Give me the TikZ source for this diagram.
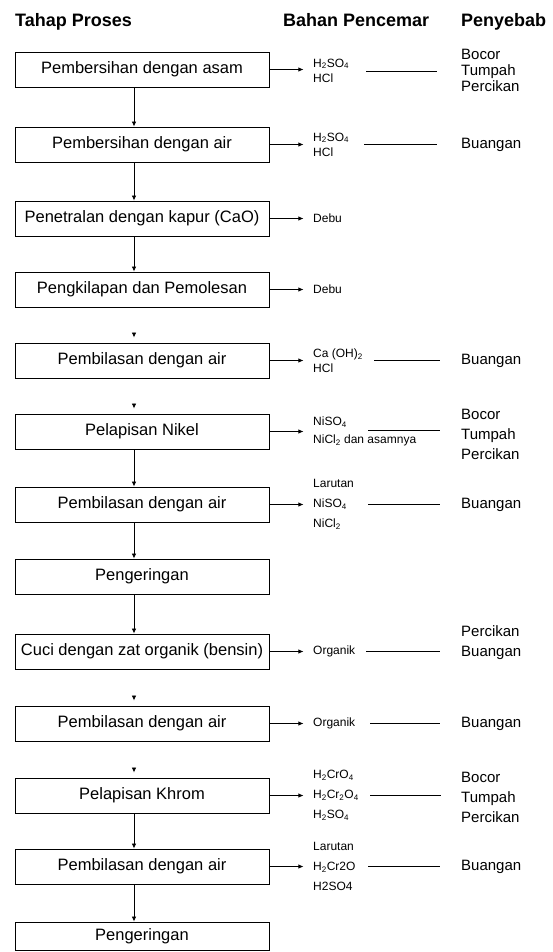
\documentclass[tikz,border=0pt]{standalone}
\usepackage{fontspec}
\setmainfont{Liberation Sans}
\usetikzlibrary{arrows.meta}
\begin{document}
\begin{tikzpicture}[x=1pt,y=-1pt,
  box/.style={draw, line width=0.9pt, minimum width=254pt, minimum height=35pt, inner sep=0pt, font=\fontsize{16.5}{19}\selectfont},
  arr/.style={line width=0.8pt, -{Latex[length=5pt,width=4.5pt]}},
  link/.style={line width=0.8pt},
  head/.style={anchor=base west, inner sep=0pt, font=\bfseries\fontsize{18}{21}\selectfont},
  chem/.style={anchor=west, align=left, inner sep=0pt, font=\fontsize{12}{15}\selectfont},
  chemwide/.style={anchor=west, align=left, inner sep=0pt, font=\fontsize{12}{18}\selectfont},
  chemthree/.style={anchor=west, align=left, inner sep=0pt, font=\fontsize{12}{20}\selectfont},
  cause/.style={anchor=west, align=left, inner sep=0pt, font=\fontsize{15}{20}\selectfont},
  causetight/.style={anchor=west, align=left, inner sep=0pt, font=\fontsize{15}{16}\selectfont}
]
\useasboundingbox (0,0) rectangle (553,952);
\fill[white] (0,0) rectangle (553,952);

% headers
\node[head] (h1) at (15,27) {Tahap Proses};
\node[head] (h2) at (283,27) {Bahan Pencemar};
\node[head] (h3) at (461,27) {Penyebab};

% process boxes
\node[box] (b1) at (142,69.5) {Pembersihan dengan asam};
\node[box] (b2) at (142,144.5) {Pembersihan dengan air};
\node[box] (b3) at (142,218.5) {Penetralan dengan kapur (CaO)};
\node[box] (b4) at (142,289.5) {Pengkilapan dan Pemolesan};
\node[box] (b5) at (142,360.5) {Pembilasan dengan air};
\node[box] (b6) at (142,431.5) {Pelapisan Nikel};
\node[box] (b7) at (142,504.5) {Pembilasan dengan air};
\node[box] (b8) at (142,576.5) {Pengeringan};
\node[box] (b9) at (142,651.5) {Cuci dengan zat organik (bensin)};
\node[box] (b10) at (142,723.5) {Pembilasan dengan air};
\node[box] (b11) at (142,795.5) {Pelapisan Khrom};
\node[box] (b12) at (142,866.5) {Pembilasan dengan air};
\node[box, minimum height=28pt] (b13) at (142,936) {Pengeringan};

% vertical flow
\coordinate (ax) at (134,0);
\draw[arr] (b1.south -| ax) -- (b2.north -| ax);
\draw[arr] (b2.south -| ax) -- (b3.north -| ax);
\draw[arr] (b3.south -| ax) -- (b4.north -| ax);
\draw[arr] (b6.south -| ax) -- (b7.north -| ax);
\draw[arr] (b7.south -| ax) -- (b8.north -| ax);
\draw[arr] (b8.south -| ax) -- (b9.north -| ax);
\draw[arr] (b11.south -| ax) -- (b12.north -| ax);
\draw[arr] (b12.south -| ax) -- (b13.north -| ax);
% lone arrow heads
\foreach \b in {b5,b6,b10,b11}{
  \coordinate (t\b) at (\b.north -| ax);
  \draw[arr] ([yshift=10pt]t\b) -- ([yshift=5pt]t\b);
}

% horizontal arrows
\foreach \b in {b1,b2,b3,b4,b5,b6,b7,b9,b10,b11,b12}{
  \draw[arr] (\b.east) -- ++(34,0) coordinate (e\b);
}

% pollutants
\node[chem] (c1) at (313,70.5) {H\textsubscript{2}SO\textsubscript{4}\\HCl};
\node[chem] (c2) at (313,144.5) {H\textsubscript{2}SO\textsubscript{4}\\HCl};
\node[chem] (c3) at (313,218.5) {Debu};
\node[chem] (c4) at (313,289.5) {Debu};
\node[chem] (c5) at (313,360.5) {Ca (OH)\textsubscript{2}\\HCl};
\node[chemwide] (c6) at (313,431.5) {NiSO\textsubscript{4}\\NiCl\textsubscript{2} dan asamnya};
\node[chemthree] (c7) at (313,504.5) {Larutan\\NiSO\textsubscript{4}\\NiCl\textsubscript{2}};
\node[chem] (c9) at (313,651.5) {Organik};
\node[chem] (c10) at (313,723.5) {Organik};
\node[chemthree] (c11) at (313,795.5) {H\textsubscript{2}CrO\textsubscript{4}\\H\textsubscript{2}Cr\textsubscript{2}O\textsubscript{4}\\H\textsubscript{2}SO\textsubscript{4}};
\node[chemthree] (c12) at (313,866.5) {Larutan\\H\textsubscript{2}Cr2O\\H2SO4};

% links to causes
\foreach \r/\y/\xa/\xb in {1/71/366/437, 2/144.5/364/437, 5/360.5/374/440, 6/430/368/440, 7/504.5/368/440, 9/651.5/366/440, 10/723.5/370/440, 11/795.5/370/441, 12/866.5/368/440}{
  \coordinate (p\r) at (\xa,\y);
  \coordinate (q\r) at (\xb,\y);
  \draw[link] (p\r) -- (q\r);
}

% causes
\node[causetight] (s1) at (461,70) {Bocor\\Tumpah\\Percikan};
\node[cause] (s2) at (461,144.5) {Buangan};
\node[cause] (s5) at (461,360.5) {Buangan};
\node[cause] (s6) at (461,434) {Bocor\\Tumpah\\Percikan};
\node[cause] (s7) at (461,504.5) {Buangan};
\node[cause] (s9) at (461,643) {Percikan\\Buangan};
\node[cause] (s10) at (461,723.5) {Buangan};
\node[cause] (s11) at (461,797) {Bocor\\Tumpah\\Percikan};
\node[cause] (s12) at (461,866.5) {Buangan};
\end{tikzpicture}
\end{document}
